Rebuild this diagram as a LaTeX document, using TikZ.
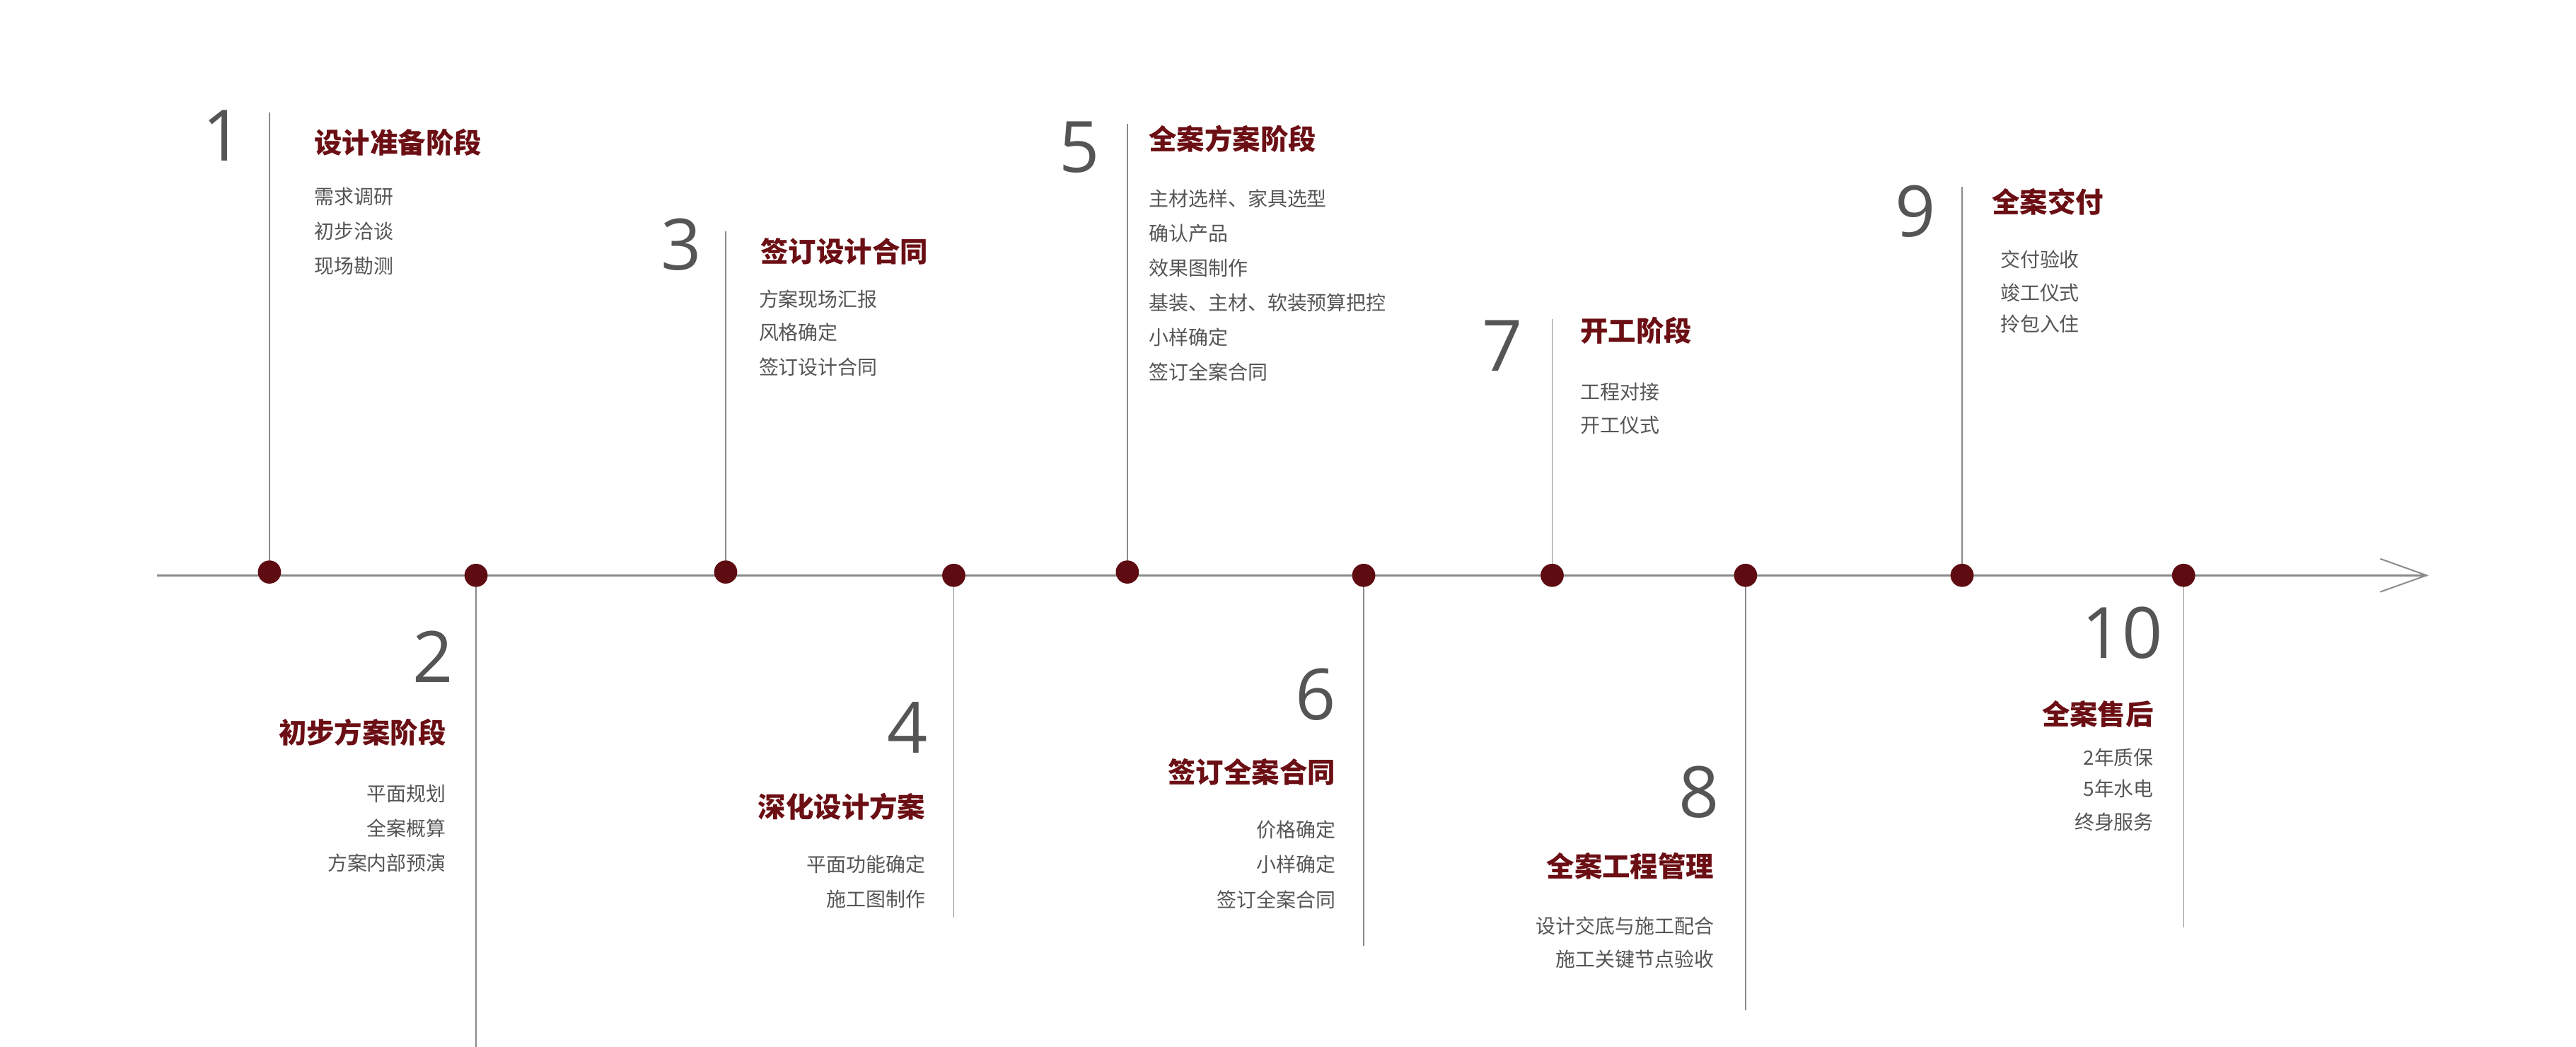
\documentclass[tikz,border=0pt]{standalone}
\usepackage{fontspec}
\setmainfont{Noto Sans CJK SC}
\newfontfamily\numfont{Open Sans}
\usetikzlibrary{arrows.meta}
\definecolor{dred}{HTML}{6B0F14}
\definecolor{dotc}{HTML}{5E0C12}
\definecolor{txt}{HTML}{555555}
\definecolor{ln}{HTML}{8A8A8A}
\begin{document}
\begin{tikzpicture}[x=0.05cm,y=-0.05cm,
  dotn/.style={circle,fill=dotc,inner sep=0,minimum size=14*0.05cm},
  vline/.style={draw=ln,line width=0.9pt},
  numn/.style={font=\numfont\fontsize{61}{61}\selectfont,text=txt,inner sep=0},
  headn/.style={font=\fontsize{24}{24}\selectfont\bfseries,text=dred,inner sep=0},
  itemn/.style={font=\fontsize{17}{17}\selectfont,text=txt,inner sep=0}]
\useasboundingbox (0,0) rectangle (1558.4,632.9);
% axis
\coordinate (axL) at (95,348);
\coordinate (axR) at (1468,348);
\draw[draw=ln,line width=1.6pt] (axL) -- (axR);
\coordinate (chA) at (1440,338);
\coordinate (chB) at (1440,358);
\draw[draw=ln,line width=1.2pt] (chA) -- (axR) -- (chB);
% verticals
\coordinate (t1) at (163,68);  \coordinate (t3) at (439,140);
\coordinate (t5) at (682,75);  \coordinate (t7) at (939,193);
\coordinate (t9) at (1187,113);
\coordinate (b2) at (288,636); \coordinate (b4) at (577,555);
\coordinate (b6) at (825,572); \coordinate (b8) at (1056,611);
\coordinate (b10) at (1321,561);
\node[inner sep=0] (p1) at (163,346) {}; \node[inner sep=0] (p2) at (288,348) {};
\node[inner sep=0] (p3) at (439,346) {}; \node[inner sep=0] (p4) at (577,348) {};
\node[inner sep=0] (p5) at (682,346) {}; \node[inner sep=0] (p6) at (825,348) {};
\node[inner sep=0] (p7) at (939,348) {}; \node[inner sep=0] (p8) at (1056,348) {};
\node[inner sep=0] (p9) at (1187,348) {}; \node[inner sep=0] (p10) at (1321,348) {};
\draw[vline] (p1) -- (t1); \draw[vline] (p3) -- (t3); \draw[vline] (p5) -- (t5);
\draw[vline] (p7) -- (t7); \draw[vline] (p9) -- (t9);
\draw[vline] (p2) -- (b2); \draw[vline] (p4) -- (b4); \draw[vline] (p6) -- (b6);
\draw[vline] (p8) -- (b8); \draw[vline] (p10) -- (b10);
\foreach \i in {1,...,10} \node[dotn] (d\i) at (p\i) {};
% 1
\node[numn] (n1) at (135,82) {1};
\node[headn,anchor=west] (h1) at (190,86) {设计准备阶段};
\node[itemn,anchor=west] (i1a) at (190,119) {需求调研};
\node[itemn,anchor=west] (i1b) at (190,140) {初步洽谈};
\node[itemn,anchor=west] (i1c) at (190,161) {现场勘测};
% 3
\node[numn] (n3) at (412,148) {3};
\node[headn,anchor=west] (h3) at (460,152) {签订设计合同};
\node[itemn,anchor=west] (i3a) at (459,181) {方案现场汇报};
\node[itemn,anchor=west] (i3b) at (459,201) {风格确定};
\node[itemn,anchor=west] (i3c) at (459,222) {签订设计合同};
% 5
\node[numn] (n5) at (653,89) {5};
\node[headn,anchor=west] (h5) at (695,84) {全案方案阶段};
\node[itemn,anchor=west] (i5a) at (695,120) {主材选样、家具选型};
\node[itemn,anchor=west] (i5b) at (695,141) {确认产品};
\node[itemn,anchor=west] (i5c) at (695,162) {效果图制作};
\node[itemn,anchor=west] (i5d) at (695,183) {基装、主材、软装预算把控};
\node[itemn,anchor=west] (i5e) at (695,204) {小样确定};
\node[itemn,anchor=west] (i5f) at (695,225) {签订全案合同};
% 7
\node[numn] (n7) at (909,209) {7};
\node[headn,anchor=west] (h7) at (956,200) {开工阶段};
\node[itemn,anchor=west] (i7a) at (956,237) {工程对接};
\node[itemn,anchor=west] (i7b) at (956,257) {开工仪式};
% 9
\node[numn] (n9) at (1159,128) {9};
\node[headn,anchor=west] (h9) at (1205,122) {全案交付};
\node[itemn,anchor=west] (i9a) at (1210,157) {交付验收};
\node[itemn,anchor=west] (i9b) at (1210,177) {竣工仪式};
\node[itemn,anchor=west] (i9c) at (1210,196) {拎包入住};
% 2
\node[numn] (n2) at (262,397) {2};
\node[headn,anchor=east] (h2) at (270,443) {初步方案阶段};
\node[itemn,anchor=east] (i2a) at (270,480) {平面规划};
\node[itemn,anchor=east] (i2b) at (270,501) {全案概算};
\node[itemn,anchor=east] (i2c) at (270,522) {方案内部预演};
% 4
\node[numn] (n4) at (549,440) {4};
\node[headn,anchor=east] (h4) at (560,488) {深化设计方案};
\node[itemn,anchor=east] (i4a) at (560,523) {平面功能确定};
\node[itemn,anchor=east] (i4b) at (560,544) {施工图制作};
% 6
\node[numn] (n6) at (796,420) {6};
\node[headn,anchor=east] (h6) at (808,467) {签订全案合同};
\node[itemn,anchor=east] (i6a) at (808,502) {价格确定};
\node[itemn,anchor=east] (i6b) at (808,523) {小样确定};
\node[itemn,anchor=east] (i6c) at (808,544) {签订全案合同};
% 8
\node[numn] (n8) at (1028,479) {8};
\node[headn,anchor=east] (h8) at (1037,524) {全案工程管理};
\node[itemn,anchor=east] (i8a) at (1037,560) {设计交底与施工配合};
\node[itemn,anchor=east] (i8b) at (1037,580) {施工关键节点验收};
% 10
\node[numn] (n10) at (1284,383) {10};
\node[headn,anchor=east] (h10) at (1303,432) {全案售后};
\node[itemn,anchor=east] (i10a) at (1303,458) {2年质保};
\node[itemn,anchor=east] (i10b) at (1303,477) {5年水电};
\node[itemn,anchor=east] (i10c) at (1303,497) {终身服务};
\end{tikzpicture}
\end{document}
